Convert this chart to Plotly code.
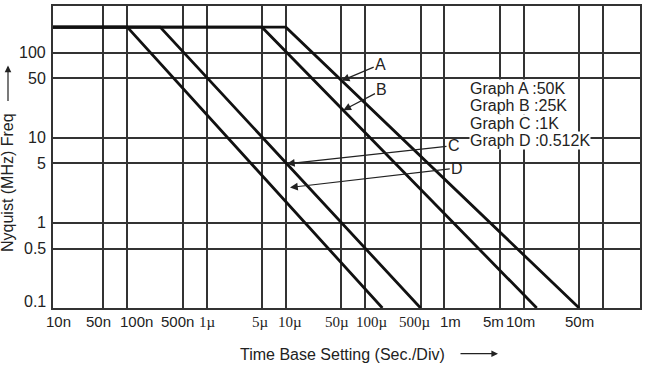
import numpy as np
import plotly.graph_objects as go

# ---------------- data ----------------
time_A = [1e-8, 1e-5, 5.0e-2]
freq_A = [200, 200, 0.1]
time_B = [1e-8, 5e-6, 1.46e-2]
freq_B = [200, 200, 0.1]
time_C = [1e-8, 2.6e-7, 5.0e-4]
freq_C = [200, 200, 0.1]
time_D = [1e-8, 1e-7, 1.65e-4]
freq_D = [200, 200, 0.1]

curve_letters = ["A", "B", "C", "D"]
legend_lines = ["Graph A :50K", "Graph B :25K", "Graph C :1K", "Graph D :0.512K"]

x_tick_vals = [1e-8, 5e-8, 1e-7, 5e-7, 1e-6, 5e-6, 1e-5, 5e-5, 1e-4, 5e-4,
               1e-3, 5e-3, 1e-2, 5e-2, 1e-1]
x_tick_text = ["10n", "50n", "100n", "500n", "1\u00b5", "5\u00b5", "10\u00b5",
               "50\u00b5", "100\u00b5", "500\u00b5", "1m", "5m", "10m", "50m", ""]
y_tick_vals = [0.1, 0.5, 1, 5, 10, 50, 100]
y_tick_text = ["0.1", "0.5", "1", "5", "10", "50", "100"]

# ---------------- styling / positions ----------------
W, H = 646, 366
ML, MR, MT, MB = 53, 6, 4, 58
PW, PH = W - ML - MR, H - MT - MB
X_RANGE = [-7.937, -0.5333]
Y_RANGE = [-1, 2.5497]
SANS = "Liberation Sans, Arial, sans-serif"
SERIF = "Liberation Serif, Times New Roman, serif"
TXT = "#222222"
GRID = "#333333"

x_label_shift = [5.6, -4.6, 9.4, -5.5, 0.8, -1, 4.3, -4.2, 7.2, -5.2, 6, -6.5, -3.5, -0.1, 0]
y_label_shift = [7, 0, 0, 0, 0, 0, 0]

# arrow tips: (time, freq) ; A-C sit on their curve, D points just beside it
tip_times = [5.06e-5, 5.3e-5, 1.03e-5, 1.127e-5]
label_offsets = [(39, -16.4), (38.7, -20.3), (167.1, -18.2), (167.3, -19.4)]


def on_curve(ts, fs, t):
    return 10 ** np.interp(np.log10(t), np.log10(ts), np.log10(fs))


series = [(time_A, freq_A), (time_B, freq_B), (time_C, freq_C), (time_D, freq_D)]

fig = go.Figure()
for (ts, fs), name in zip(series, curve_letters):
    fig.add_trace(go.Scatter(x=ts, y=fs, mode="lines", name=name,
                             line=dict(color="#111111", width=2.8),
                             showlegend=False, hoverinfo="skip"))

annotations = []
for i, letter in enumerate(curve_letters):
    ts, fs = series[i]
    t = tip_times[i]
    if letter == "D":
        f = 2.61
    else:
        f = float(on_curve(ts, fs, t))
    ax, ay = label_offsets[i]
    annotations.append(dict(
        x=np.log10(t), y=np.log10(f), xref="x", yref="y",
        text=letter, showarrow=True, ax=ax, ay=ay,
        arrowhead=2, arrowsize=1.3, arrowwidth=1.2, arrowcolor="#222",
        standoff=0, startstandoff=0,
        font=dict(family=SANS, size=16, color=TXT)))

# legend block (each line with its own white background)
legend_y_px = [87, 104.4, 121.8, 139.2]
for txt, ypx in zip(legend_lines, legend_y_px):
    annotations.append(dict(
        x=(468.5 - ML) / PW, y=(MT + PH - ypx) / PH, xref="paper", yref="paper",
        xanchor="left", yanchor="middle", text=txt, showarrow=False,
        bgcolor="white", borderpad=0,
        font=dict(family=SANS, size=16, color=TXT)))

# x tick labels
x_lo = 10 ** X_RANGE[0]
for val, lab, sh in zip(x_tick_vals, x_tick_text, x_label_shift):
    if not lab:
        continue
    fam = SERIF if "\u00b5" in lab else SANS
    if val < x_lo:   # the first label sits on the left frame edge
        xpos, xr, shift = 0, "paper", 5.3
    else:
        xpos, xr, shift = np.log10(val), "x", sh
    annotations.append(dict(
        x=xpos, y=(MT + PH - 322) / PH, xref=xr, yref="paper",
        xanchor="center", yanchor="middle", xshift=shift, text=lab,
        showarrow=False, font=dict(family=fam, size=15, color=TXT)))

# y tick labels
for val, lab, sh in zip(y_tick_vals, y_tick_text, y_label_shift):
    annotations.append(dict(
        x=0, y=np.log10(val), xref="paper", yref="y",
        xanchor="right", yanchor="middle", xshift=-5, yshift=sh, text=lab,
        showarrow=False, font=dict(family=SANS, size=16, color=TXT)))

# axis titles
annotations.append(dict(
    x=(342 - ML) / PW, y=(MT + PH - 355) / PH, xref="paper", yref="paper",
    text="Time Base Setting (Sec./Div)", showarrow=False,
    xanchor="center", yanchor="middle",
    font=dict(family=SANS, size=16, color=TXT)))
annotations.append(dict(
    x=(498 - ML) / PW, y=(MT + PH - 354) / PH, xref="paper", yref="paper",
    text="", showarrow=True, ax=-39, ay=0,
    arrowhead=2, arrowsize=1.1, arrowwidth=1.2, arrowcolor="#222"))
annotations.append(dict(
    x=(7.5 - ML) / PW, y=(MT + PH - 181.7) / PH, xref="paper", yref="paper",
    text="Nyquist (MHz) Freq", showarrow=False, textangle=-90,
    xanchor="center", yanchor="middle",
    font=dict(family=SANS, size=16, color=TXT)))
annotations.append(dict(
    x=(8 - ML) / PW, y=(MT + PH - 64) / PH, xref="paper", yref="paper",
    text="", showarrow=True, ax=0, ay=37,
    arrowhead=2, arrowsize=1.1, arrowwidth=1.2, arrowcolor="#222"))

fig.update_layout(
    width=W, height=H,
    margin=dict(l=ML, r=MR, t=MT, b=MB, pad=0),
    paper_bgcolor="white", plot_bgcolor="white",
    showlegend=False,
    annotations=annotations,
    xaxis=dict(type="log", range=X_RANGE, tickvals=x_tick_vals,
               showticklabels=False, ticks="",
               showgrid=True, gridcolor=GRID, gridwidth=1.5,
               showline=True, mirror=True, linecolor="#333", linewidth=1.6,
               zeroline=False, fixedrange=True),
    yaxis=dict(type="log", range=Y_RANGE, tickvals=y_tick_vals,
               showticklabels=False, ticks="",
               showgrid=True, gridcolor=GRID, gridwidth=1.5,
               showline=True, mirror=True, linecolor="#333", linewidth=1.6,
               zeroline=False, fixedrange=True),
)

fig.write_html("out.html", config={"displayModeBar": False},
               post_script="document.body.style.margin='0';document.body.style.overflow='hidden';")
